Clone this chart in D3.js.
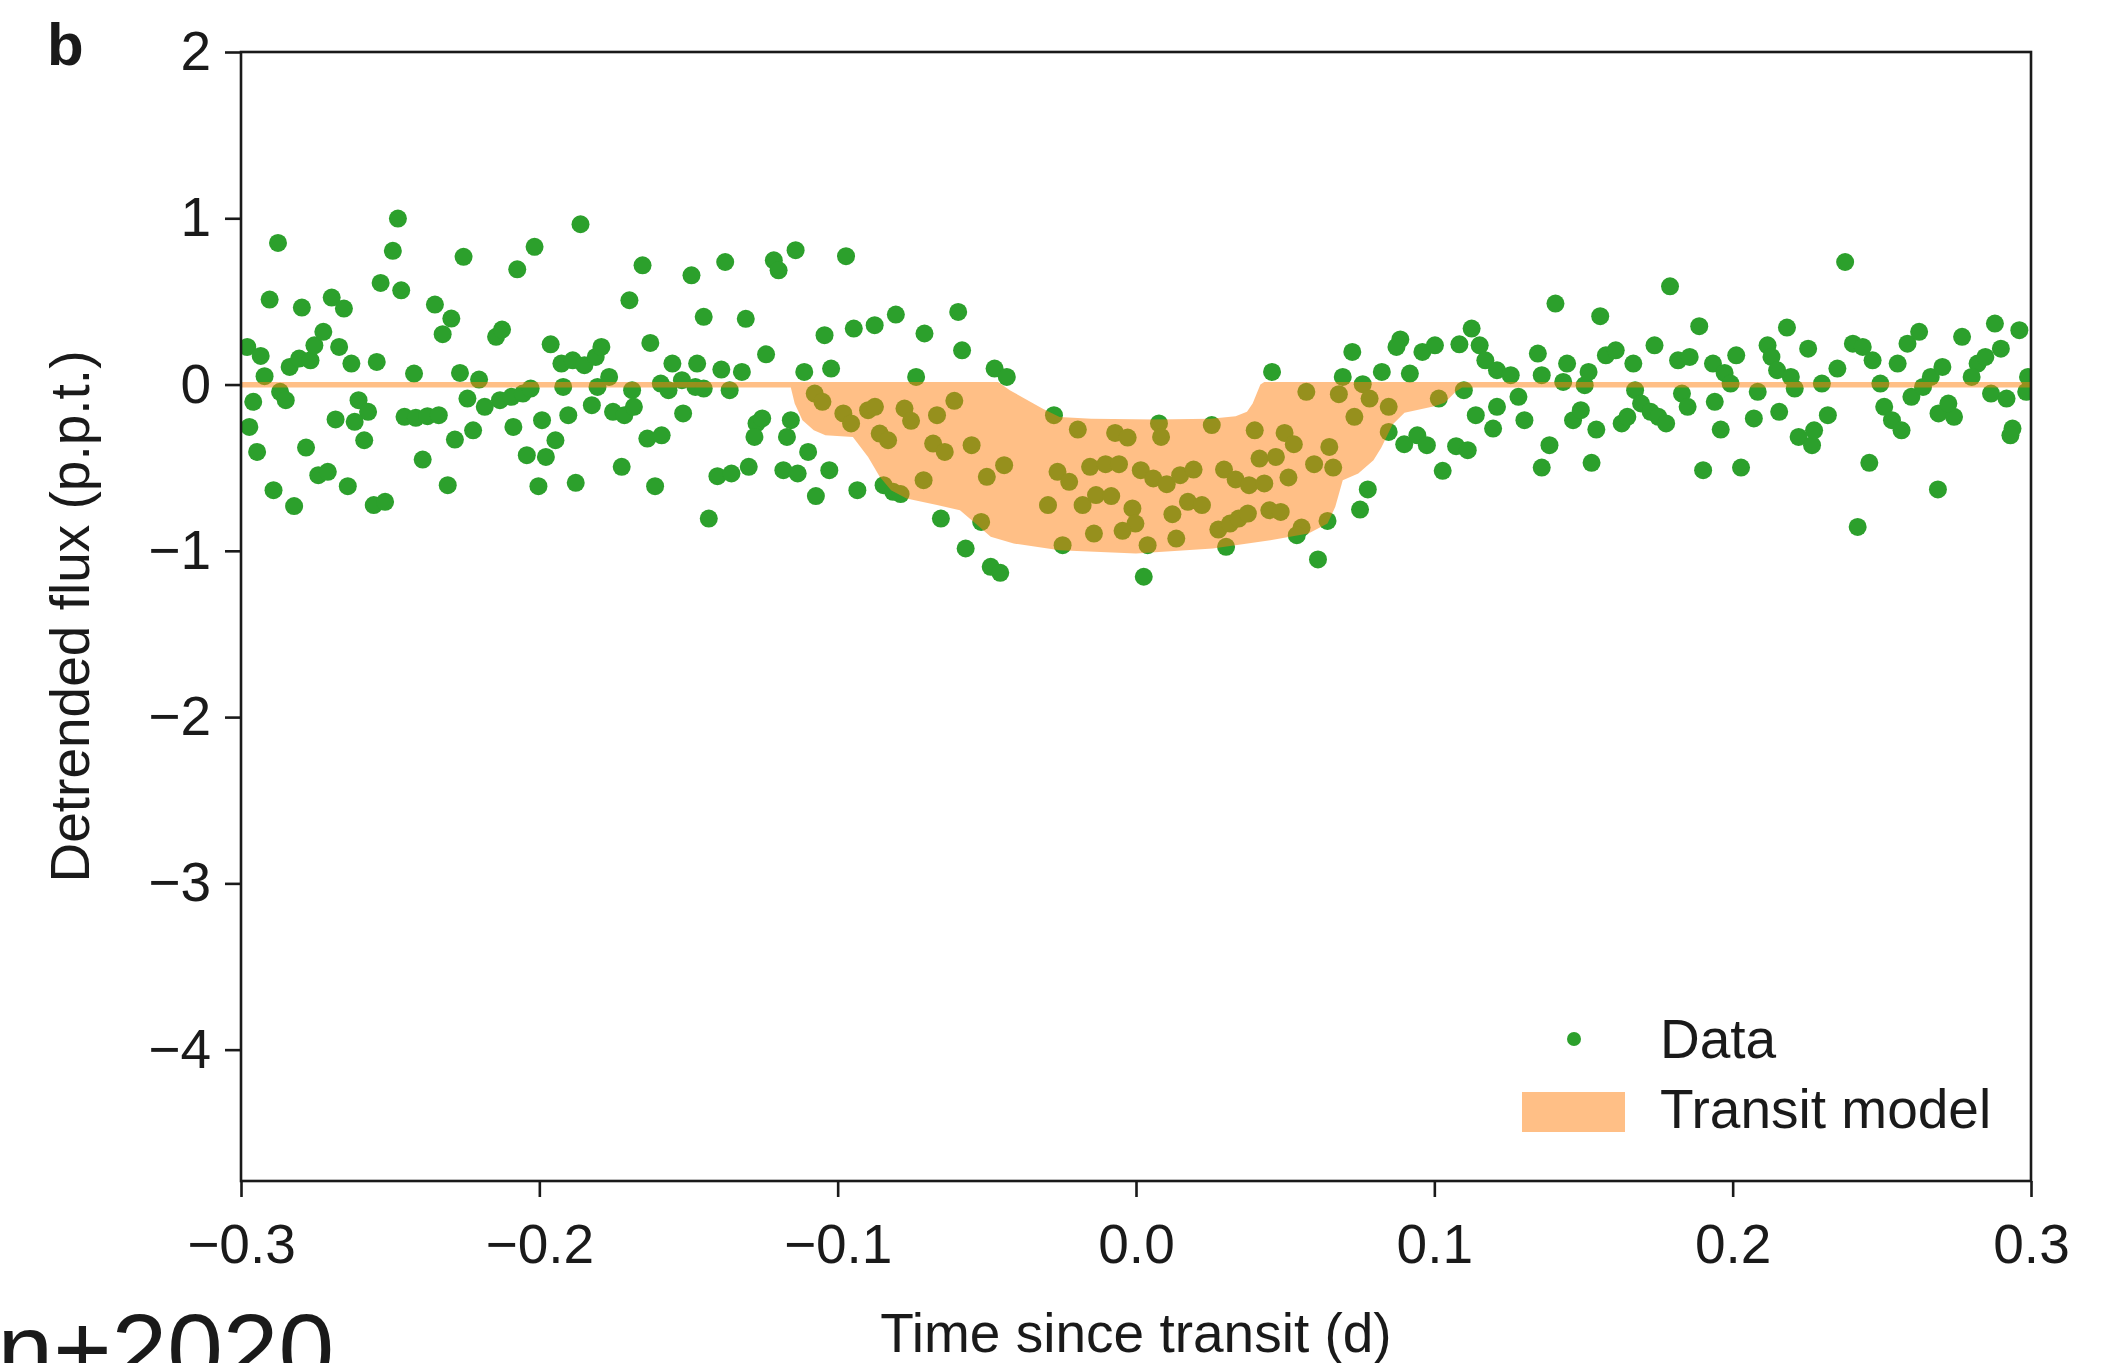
<!DOCTYPE html>
<html><head><meta charset="utf-8">
<script src="https://cdn.jsdelivr.net/npm/d3@7"></script>
<style>
html,body{margin:0;padding:0;background:#fff;}
svg{display:block;}
text{font-family:"Liberation Sans",Arial,Helvetica,sans-serif;fill:#1a1a1a;}
</style></head><body>
<svg id="chart" width="2122" height="1363"></svg>
<script>
// ---- Data: detrended flux (p.p.t.) vs time since transit (d) ----
const timeA = [
-0.2876,-0.2904,-0.2979,-0.2934,-0.2921,-0.2959,-0.2869,-0.2850,-0.2972,-0.2946,
-0.2891,-0.2822,-0.2782,-0.2837,-0.2805,-0.2767,-0.2754,-0.2724,-0.2796,-0.2696,
-0.2655,-0.2671,-0.2630,-0.2683,-0.2606,-0.2574,-0.2619,-0.2587,-0.2741,-0.2709,
-0.2642,-0.2555,-0.2517,-0.2532,-0.2463,-0.2491,-0.2474,-0.2545,-0.2420,-0.2452,
-0.2414,-0.2375,-0.2337,-0.2391,-0.2350,-0.2295,-0.2324,-0.2254,-0.2307,-0.2266,
-0.2202,-0.2241,-0.2283,-0.2222,-0.2183,-0.2132,-0.2093,-0.2055,-0.2029,-0.2145,
-0.2125,-0.2074,-0.2016,-0.2087,-0.2042,-0.1978,-0.1946,-0.1991,-0.2003,-0.1962,
-0.1926,-0.1888,-0.1849,-0.1811,-0.1792,-0.1920,-0.1903,-0.1878,-0.1862,-0.1824,
-0.1805,-0.1766,-0.1753,-0.1715,-0.1683,-0.1689,-0.1724,-0.1698,-0.1654,-0.1628,
-0.1638,-0.1590,-0.1612,-0.1593,-0.1554,-0.1567,-0.1522,-0.1477,-0.1471,-0.1449,
-0.1518,-0.1490,-0.1449,-0.1432,-0.1403,-0.1356,-0.1298,-0.1390,-0.1362,-0.1321,
-0.1377,-0.1308,-0.1272,-0.1279,-0.1253,-0.1240,-0.1214,-0.1198,-0.1141,-0.1182,
-0.1134,-0.1170,-0.1157,-0.1112,-0.1099,-0.1073,-0.1077,-0.1051,-0.1044,-0.1022,
-0.1028];
const fluxA = [
0.852,0.511,0.226,0.172,0.050,-0.104,-0.044,-0.094,-0.255,-0.405,
-0.635,-0.731,-0.379,0.106,0.156,0.146,0.236,0.317,0.463,0.523,
0.457,0.226,0.126,-0.210,-0.094,-0.164,-0.224,-0.335,-0.545,-0.525,
-0.611,-0.725,-0.705,0.611,0.567,0.804,0.998,0.136,0.066,-0.194,
-0.200,-0.190,-0.184,-0.451,0.481,0.397,0.303,0.768,-0.605,0.070,
0.030,-0.084,-0.331,-0.275,-0.134,-0.094,-0.074,-0.054,-0.024,0.287,
0.331,0.693,0.828,-0.255,-0.425,-0.435,-0.335,-0.214,-0.611,0.242,
0.126,0.146,0.116,0.166,0.226,-0.014,-0.184,-0.591,0.964,-0.124,
-0.014,0.046,-0.164,-0.184,-0.134,-0.034,-0.495,0.507,0.717,0.250,
-0.325,-0.305,-0.611,0.006,0.126,-0.034,0.026,-0.014,0.126,-0.024,
-0.174,0.657,0.407,-0.806,-0.551,-0.535,-0.495,0.090,-0.034,0.076,
0.737,0.395,-0.234,-0.315,-0.204,0.182,0.747,0.687,0.808,-0.515,
-0.535,-0.315,-0.214,0.076,-0.405,-0.671,-0.054,-0.104,0.297,0.096,
-0.515];
const timeB = [
-0.0972,-0.0946,-0.0876,-0.0805,-0.0709,-0.0596,-0.0583,-0.0737,-0.0474,-0.0433,
-0.0981,-0.0955,-0.0898,-0.0875,-0.0859,-0.0831,-0.0776,-0.0754,-0.0667,-0.0609,
-0.0680,-0.0641,-0.0551,-0.0442,-0.0500,-0.0712,-0.0846,-0.0814,-0.0789,-0.0934,
-0.0654,-0.0571,-0.0487,-0.0455,-0.0519,-0.0275,-0.0195,-0.0070,-0.0028,0.0077,
0.0084,0.0254,0.0398,-0.0263,-0.0224,-0.0295,-0.0179,-0.0134,-0.0083,-0.0154,
-0.0102,-0.0057,0.0016,0.0058,0.0103,0.0148,0.0193,0.0295,0.0334,0.0379,
0.0430,0.0414,0.0469,0.0511,0.0498,0.0529,0.0648,0.0597,0.0661,-0.0012,
-0.0002,-0.0045,-0.0141,-0.0246,0.0039,0.0135,0.0122,0.0174,0.0221,0.0276,
0.0315,0.0344,0.0375,0.0447,0.0485,0.0555,0.0539,0.0302,0.0642,0.0026,
0.0610,0.0751,0.0777,0.0456,0.0571,0.0725,0.0693,0.0680,0.0732,0.0760,
0.0783,0.0847,0.0824,0.0886,0.0873,0.0918,0.0960,0.0847,0.0899,0.0943,
0.0975];
const fluxB = [
0.772,0.337,0.357,0.421,0.307,0.437,0.206,0.046,0.096,0.046,
-0.174,-0.234,-0.154,-0.134,-0.295,-0.335,-0.144,-0.218,-0.184,-0.098,
-0.355,-0.405,-0.365,-0.485,-0.555,-0.575,-0.605,-0.645,-0.659,-0.635,
-0.806,-0.986,-1.096,-1.132,-0.826,-0.184,-0.271,-0.291,-0.319,-0.234,
-0.315,-0.244,-0.275,-0.525,-0.585,-0.725,-0.725,-0.665,-0.671,-0.495,
-0.479,-0.479,-0.515,-0.565,-0.599,-0.545,-0.511,-0.511,-0.571,-0.605,
-0.595,-0.445,-0.435,-0.559,-0.291,-0.359,-0.375,-0.479,-0.499,-0.745,
-0.836,-0.880,-0.896,-0.966,-0.966,-0.926,-0.780,-0.705,-0.725,-0.872,
-0.836,-0.806,-0.776,-0.756,-0.766,-0.860,-0.906,-0.976,-0.820,-1.156,
-1.052,-0.752,-0.631,0.076,-0.044,0.196,0.046,-0.058,-0.194,0.002,
-0.084,-0.134,0.076,0.271,0.226,0.066,0.196,-0.285,-0.359,-0.305,
-0.365];
const timeC = [
0.1002,0.1015,0.1099,0.1084,0.1125,0.1152,0.1139,0.1197,0.1210,0.1028,
0.1073,0.1112,0.1171,0.1210,0.1256,0.1282,0.1302,0.1347,0.1360,0.1406,
0.1386,0.1360,0.1445,0.1432,0.1465,0.1491,0.1504,0.1517,0.1556,0.1543,
0.1527,0.1575,0.1608,0.1628,0.1647,0.1667,0.1673,0.1693,0.1725,0.1751,
0.1777,0.1738,0.1790,0.1817,0.1830,0.1856,0.1849,0.1888,0.1901,0.1934,
0.1940,0.1960,0.1973,0.2012,0.1993,0.2028,0.2071,0.2084,0.2117,0.2130,
0.2156,0.2149,0.2182,0.2195,0.2208,0.2253,0.2221,0.2266,0.2273,0.2319,
0.2299,0.2351,0.2377,0.2403,0.2436,0.2469,0.2495,0.2508,0.2534,0.2566,
0.2419,0.2458,0.2553,0.2586,0.2625,0.2599,0.2638,0.2664,0.2703,0.2690,
0.2742,0.2723,0.2769,0.2821,0.2801,0.2847,0.2899,0.2879,0.2688,0.2866,
0.2918,0.2938,0.2931,0.2961,0.2990,0.2984];
const fluxC = [
0.236,-0.084,-0.034,0.242,0.337,0.236,-0.184,-0.265,-0.134,-0.519,
-0.371,-0.395,0.146,0.086,0.056,-0.074,-0.214,0.186,0.056,0.487,
-0.365,-0.499,0.126,0.016,-0.214,-0.154,-0.004,0.076,0.411,-0.271,
-0.471,0.176,0.206,-0.234,-0.194,0.126,-0.034,-0.114,-0.164,-0.194,
-0.234,0.236,0.591,0.146,-0.054,0.166,-0.134,0.351,-0.515,0.126,
-0.104,-0.271,0.070,0.176,0.006,-0.499,-0.204,-0.044,0.236,0.166,
-0.164,0.086,0.343,0.046,-0.024,0.216,-0.315,-0.365,-0.275,-0.184,
0.006,0.096,0.737,0.246,0.226,0.146,0.006,-0.134,-0.214,-0.275,
-0.856,-0.471,0.126,0.246,0.317,-0.074,-0.014,0.046,0.106,-0.174,
-0.194,-0.114,0.287,0.126,0.046,0.166,0.216,0.367,-0.631,-0.054,
-0.084,-0.265,-0.305,0.327,0.046,-0.044];

// Transit model band edges
const modelUpperTime = [-0.3,-0.0462,-0.0423,-0.0314,-0.0256,-0.015,0.0065,0.025,0.0334,0.0372,0.0391,0.0417,0.043,0.3];
const modelUpperFlux = [0.016,0.016,-0.034,-0.144,-0.195,-0.205,-0.21,-0.205,-0.19,-0.164,-0.114,0.0,0.016,0.016];
const modelLowerTime = [-0.3,-0.1157,-0.1144,-0.1118,-0.108,-0.1041,-0.0949,-0.0898,-0.0859,-0.0821,-0.0769,-0.0667,-0.059,-0.0538,-0.0487,-0.041,-0.0256,0.0,0.0257,0.045,0.0578,0.0642,0.0668,0.0693,0.0745,0.0796,0.0822,0.086,0.09,0.1,0.1035,0.1073,0.1093,0.3];
const modelLowerFlux = [-0.018,-0.018,-0.114,-0.214,-0.275,-0.305,-0.315,-0.435,-0.555,-0.635,-0.685,-0.725,-0.756,-0.836,-0.916,-0.956,-0.996,-1.016,-0.986,-0.936,-0.896,-0.836,-0.735,-0.575,-0.535,-0.455,-0.38,-0.24,-0.17,-0.13,-0.11,-0.04,-0.018,-0.018];

// Ticks
const xTickValues = [-0.3,-0.2,-0.1,0.0,0.1,0.2,0.3];
const xTickLabels = ["\u22120.3","\u22120.2","\u22120.1","0.0","0.1","0.2","0.3"];
const yTickValues = [2,1,0,-1,-2,-3,-4];
const yTickLabels = ["2","1","0","\u22121","\u22122","\u22123","\u22124"];

// ---- Drawing ----
const svg = d3.select("#chart");
const M = {left:241, right:2031, top:52, bottom:1181};
const x = d3.scaleLinear().domain([-0.3,0.3]).range([M.left,M.right]);
const y = d3.scaleLinear().domain([-4.79,2]).range([M.bottom,M.top]);
const GREEN = "#2ca02c", ORANGE = "#ff7f0e";
const FS = 55;

svg.append("defs").append("clipPath").attr("id","plotclip")
  .append("rect").attr("x",M.left).attr("y",M.top)
  .attr("width",M.right-M.left).attr("height",M.bottom-M.top);

const plot = svg.append("g").attr("clip-path","url(#plotclip)");

const points = [];
[[timeA,fluxA],[timeB,fluxB],[timeC,fluxC]].forEach(([t,f]) => {
  t.forEach((tv,i) => points.push({t:tv, f:f[i]}));
});

plot.append("g").selectAll("circle").data(points).join("circle")
  .attr("cx", d => x(d.t)).attr("cy", d => y(d.f)).attr("r", 9)
  .attr("fill", GREEN);

const upper = modelUpperTime.map((t,i) => [t, modelUpperFlux[i]]);
const lower = modelLowerTime.map((t,i) => [t, modelLowerFlux[i]]).reverse();
const bandLine = d3.line().x(d => x(d[0])).y(d => y(d[1]));
plot.append("path")
  .attr("d", bandLine(upper.concat(lower)) + "Z")
  .attr("fill", ORANGE).attr("fill-opacity", 0.5).attr("stroke","none");

// Axes
const xAxis = d3.axisBottom(x).tickValues(xTickValues)
  .tickFormat((d,i) => xTickLabels[i]).tickSize(16).tickPadding(27);
const yAxis = d3.axisLeft(y).tickValues(yTickValues)
  .tickFormat((d,i) => yTickLabels[i]).tickSize(16).tickPadding(14);

const gx = svg.append("g").attr("transform", `translate(0,${M.bottom})`).call(xAxis);
const gy = svg.append("g").attr("transform", `translate(${M.left},0)`).call(yAxis);
[gx, gy].forEach(g => {
  g.select(".domain").remove();
  g.selectAll(".tick line").attr("stroke","#1a1a1a").attr("stroke-width",2.6);
  g.selectAll(".tick text").attr("font-size",FS)
    .attr("font-family","'Liberation Sans',Arial,sans-serif").attr("fill","#1a1a1a");
});

// Frame
svg.append("rect").attr("x",M.left).attr("y",M.top)
  .attr("width",M.right-M.left).attr("height",M.bottom-M.top)
  .attr("fill","none").attr("stroke","#1a1a1a").attr("stroke-width",2.6);

// Axis labels
svg.append("text").attr("x",(M.left+M.right)/2).attr("y",1352)
  .attr("text-anchor","middle").attr("font-size",FS).text("Time since transit (d)");
svg.append("text").attr("transform",`translate(89,${(M.top+M.bottom)/2}) rotate(-90)`)
  .attr("text-anchor","middle").attr("font-size",FS).text("Detrended flux (p.p.t.)");

// Panel letter
svg.append("text").attr("x",47).attr("y",65).attr("font-size",60)
  .attr("font-weight","bold").text("b");

// Cut-off annotation fragment (cut at the bottom edge, as in the reference)
svg.append("text").attr("x",334).attr("y",1384).attr("text-anchor","end")
  .attr("font-size",100).text("n+2020");

// Legend
const lg = svg.append("g");
lg.append("circle").attr("cx",1574).attr("cy",1039).attr("r",7).attr("fill",GREEN);
lg.append("text").attr("x",1660).attr("y",1058).attr("font-size",FS).text("Data");
lg.append("rect").attr("x",1522).attr("y",1092).attr("width",103).attr("height",40)
  .attr("fill",ORANGE).attr("fill-opacity",0.5);
lg.append("text").attr("x",1660).attr("y",1128).attr("font-size",FS).text("Transit model");
</script>
</body></html>
